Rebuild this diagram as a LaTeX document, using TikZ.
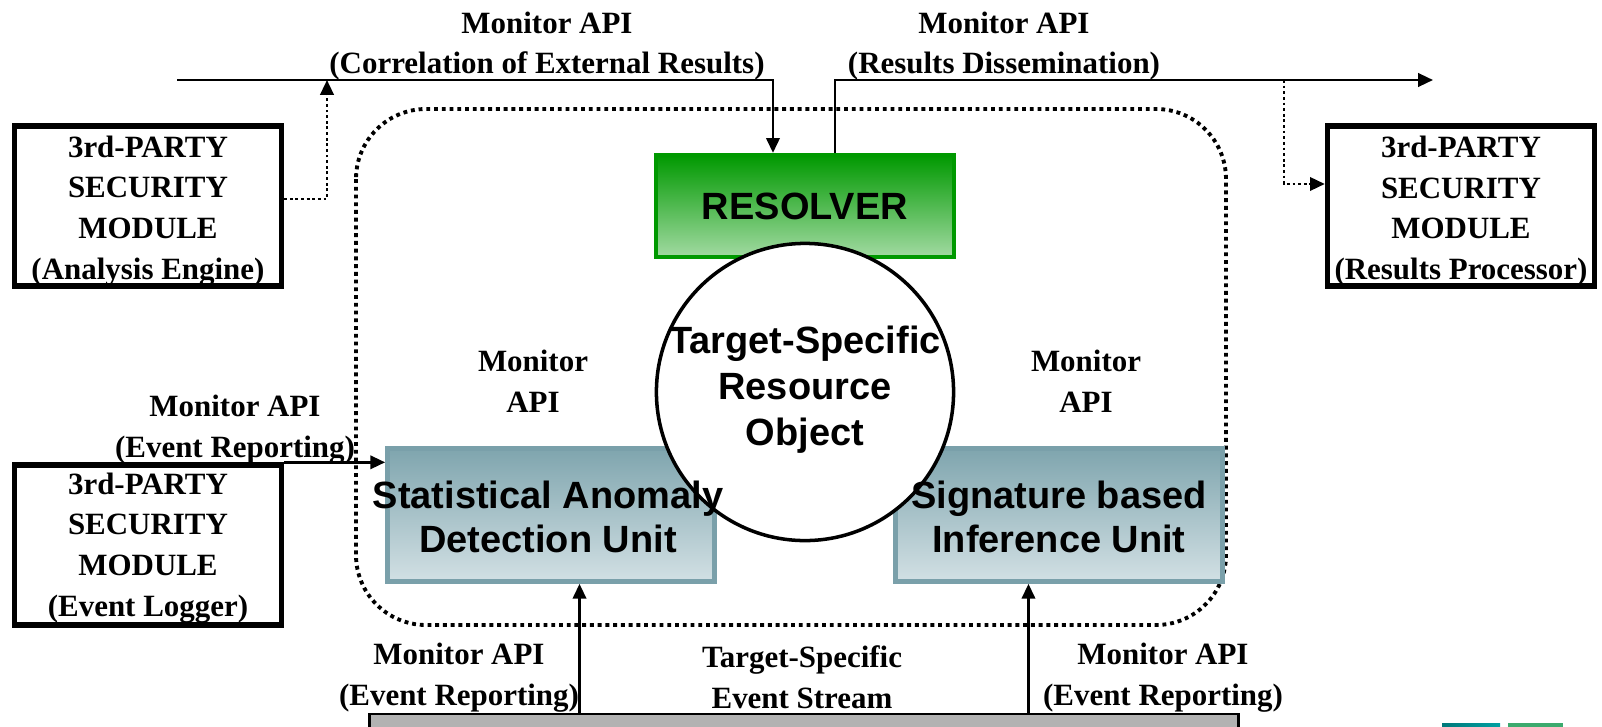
\documentclass[tikz,border=0pt]{standalone}
\usepackage{fontspec}
\setmainfont{Liberation Serif}
\newfontfamily\headfont{Liberation Sans}
\usetikzlibrary{arrows.meta}

\definecolor{resgreen}{RGB}{0,153,0}
\definecolor{reslight}{RGB}{162,218,162}
\definecolor{unittop}{RGB}{127,165,174}
\definecolor{unitbot}{RGB}{210,224,228}
\definecolor{unitline}{RGB}{122,160,170}
\definecolor{streamgray}{RGB}{178,178,178}
\definecolor{tealbar}{RGB}{0,120,122}
\definecolor{greenbar}{RGB}{60,170,110}

\newcommand{\apifont}{\fontsize{8.8}{11.6}\selectfont\bfseries}
\newcommand{\unitfnt}{\headfont\fontsize{10.8}{12.6}\selectfont\bfseries}

\begin{document}
\begin{tikzpicture}[x=0.01cm,y=-0.01cm,
    arr/.style={-{Triangle[length=4.2pt,width=3.8pt]},line width=0.7pt},
    dotarr/.style={arr,dash pattern=on 0.8pt off 0.8pt},
    party/.style={draw,line width=1.5pt,minimum width=2.67cm,minimum height=1.6cm,inner sep=0pt},
    resbox/.style={draw=resgreen,line width=1.2pt,top color=resgreen,bottom color=reslight,minimum width=2.98cm,minimum height=1.02cm,font=\unitfnt},
    unit/.style={draw=unitline,line width=1.3pt,top color=unittop,bottom color=unitbot,minimum width=3.27cm,minimum height=1.33cm},
    unittext/.style={align=center,font=\unitfnt,inner sep=0pt},
    lbl/.style={align=center,font=\apifont,inner sep=0pt}]
    \clip (0,0) rectangle (1602,727);
    \draw[line width=1.1pt,dash pattern=on 1.1pt off 1.1pt,rounded corners=0.7cm] (356,109) rectangle (1226,625);
    \node[party] (ae) at (148,206) {};
    \node[party] (rp) at (1461,206) {};
    \node[party] (el) at (148,545) {};
    \node[lbl] (aetext) at (148,211) {3rd-PARTY\\SECURITY\\MODULE\\(Analysis Engine)};
    \node[lbl] (rptext) at (1461,211) {3rd-PARTY\\SECURITY\\MODULE\\(Results Processor)};
    \node[lbl] (eltext) at (148,548) {3rd-PARTY\\SECURITY\\MODULE\\(Event Logger)};
    \node[resbox] (res) at (805,206) {RESOLVER};
    \node[unit] (sad) at (551,515) {};
    \node[unit] (sbi) at (1059,515) {};
    \node[draw,fill=streamgray,line width=0.8pt,minimum width=8.68cm,minimum height=0.4cm] (evs) at (804,734) {};
    \node[lbl] (corrlbl) at (547,46) {Monitor API\\(Correlation of External Results)};
    \node[lbl] (disslbl) at (1004,46) {Monitor API\\(Results Dissemination)};
    \node[lbl] (eventlbl) at (235,430) {Monitor API\\(Event Reporting)};
    \node[lbl] (sadapi) at (533,381) {Monitor\\API};
    \node[lbl] (sbiapi) at (1086,381) {Monitor\\API};
    \node[lbl] (sadlbl) at (459,678) {Monitor API\\(Event Reporting)};
    \node[lbl] (evslbl) at (802,677) {Target-Specific\\Event Stream};
    \node[lbl] (sbilbl) at (1163,678) {Monitor API\\(Event Reporting)};
    \coordinate (corrin) at (177,80);
    \coordinate (corrtap) at (327,80);
    \coordinate (dissout) at (1433,80);
    \coordinate (disstap) at (1284,80);
    \coordinate (resin) at ([xshift=-0.32cm]res.north);
    \coordinate (resout) at ([xshift=0.3cm]res.north);
    \coordinate (sadin) at ([xshift=0.285cm]sad.south);
    \coordinate (sbiin) at ([xshift=-0.305cm]sbi.south);
    \draw[arr] (corrin) -| (resin);
    \draw[dotarr] ([yshift=0.07cm]ae.east) -| (corrtap);
    \draw[arr] (resout) |- (dissout);
    \draw[dotarr] (disstap) |- ([yshift=0.22cm]rp.west);
    \draw[arr] (el.north east) -- (el.north east -| sad.west);
    \draw[arr] (evs.north -| sadin) -- (sadin);
    \draw[arr] (evs.north -| sbiin) -- (sbiin);
    \node[draw,circle,fill=white,line width=1pt,minimum size=2.97cm,inner sep=0pt] (obj) at (805,392) {};
    \node[unittext,font=\headfont\fontsize{10.8}{13.1}\selectfont\bfseries] (objtext) at (805,390) {Target-Specific\\Resource\\Object};
    \node[unittext] (sadtext) at (548,517) {Statistical Anomaly\\Detection Unit};
    \node[unittext] (sbitext) at (1059,517) {Signature based\\Inference Unit};
    \fill[left color=tealbar,right color=tealbar!70!cyan] (1442,723) rectangle (1500,727);
    \fill[greenbar] (1508,723) rectangle (1563,727);
\end{tikzpicture}
\end{document}
